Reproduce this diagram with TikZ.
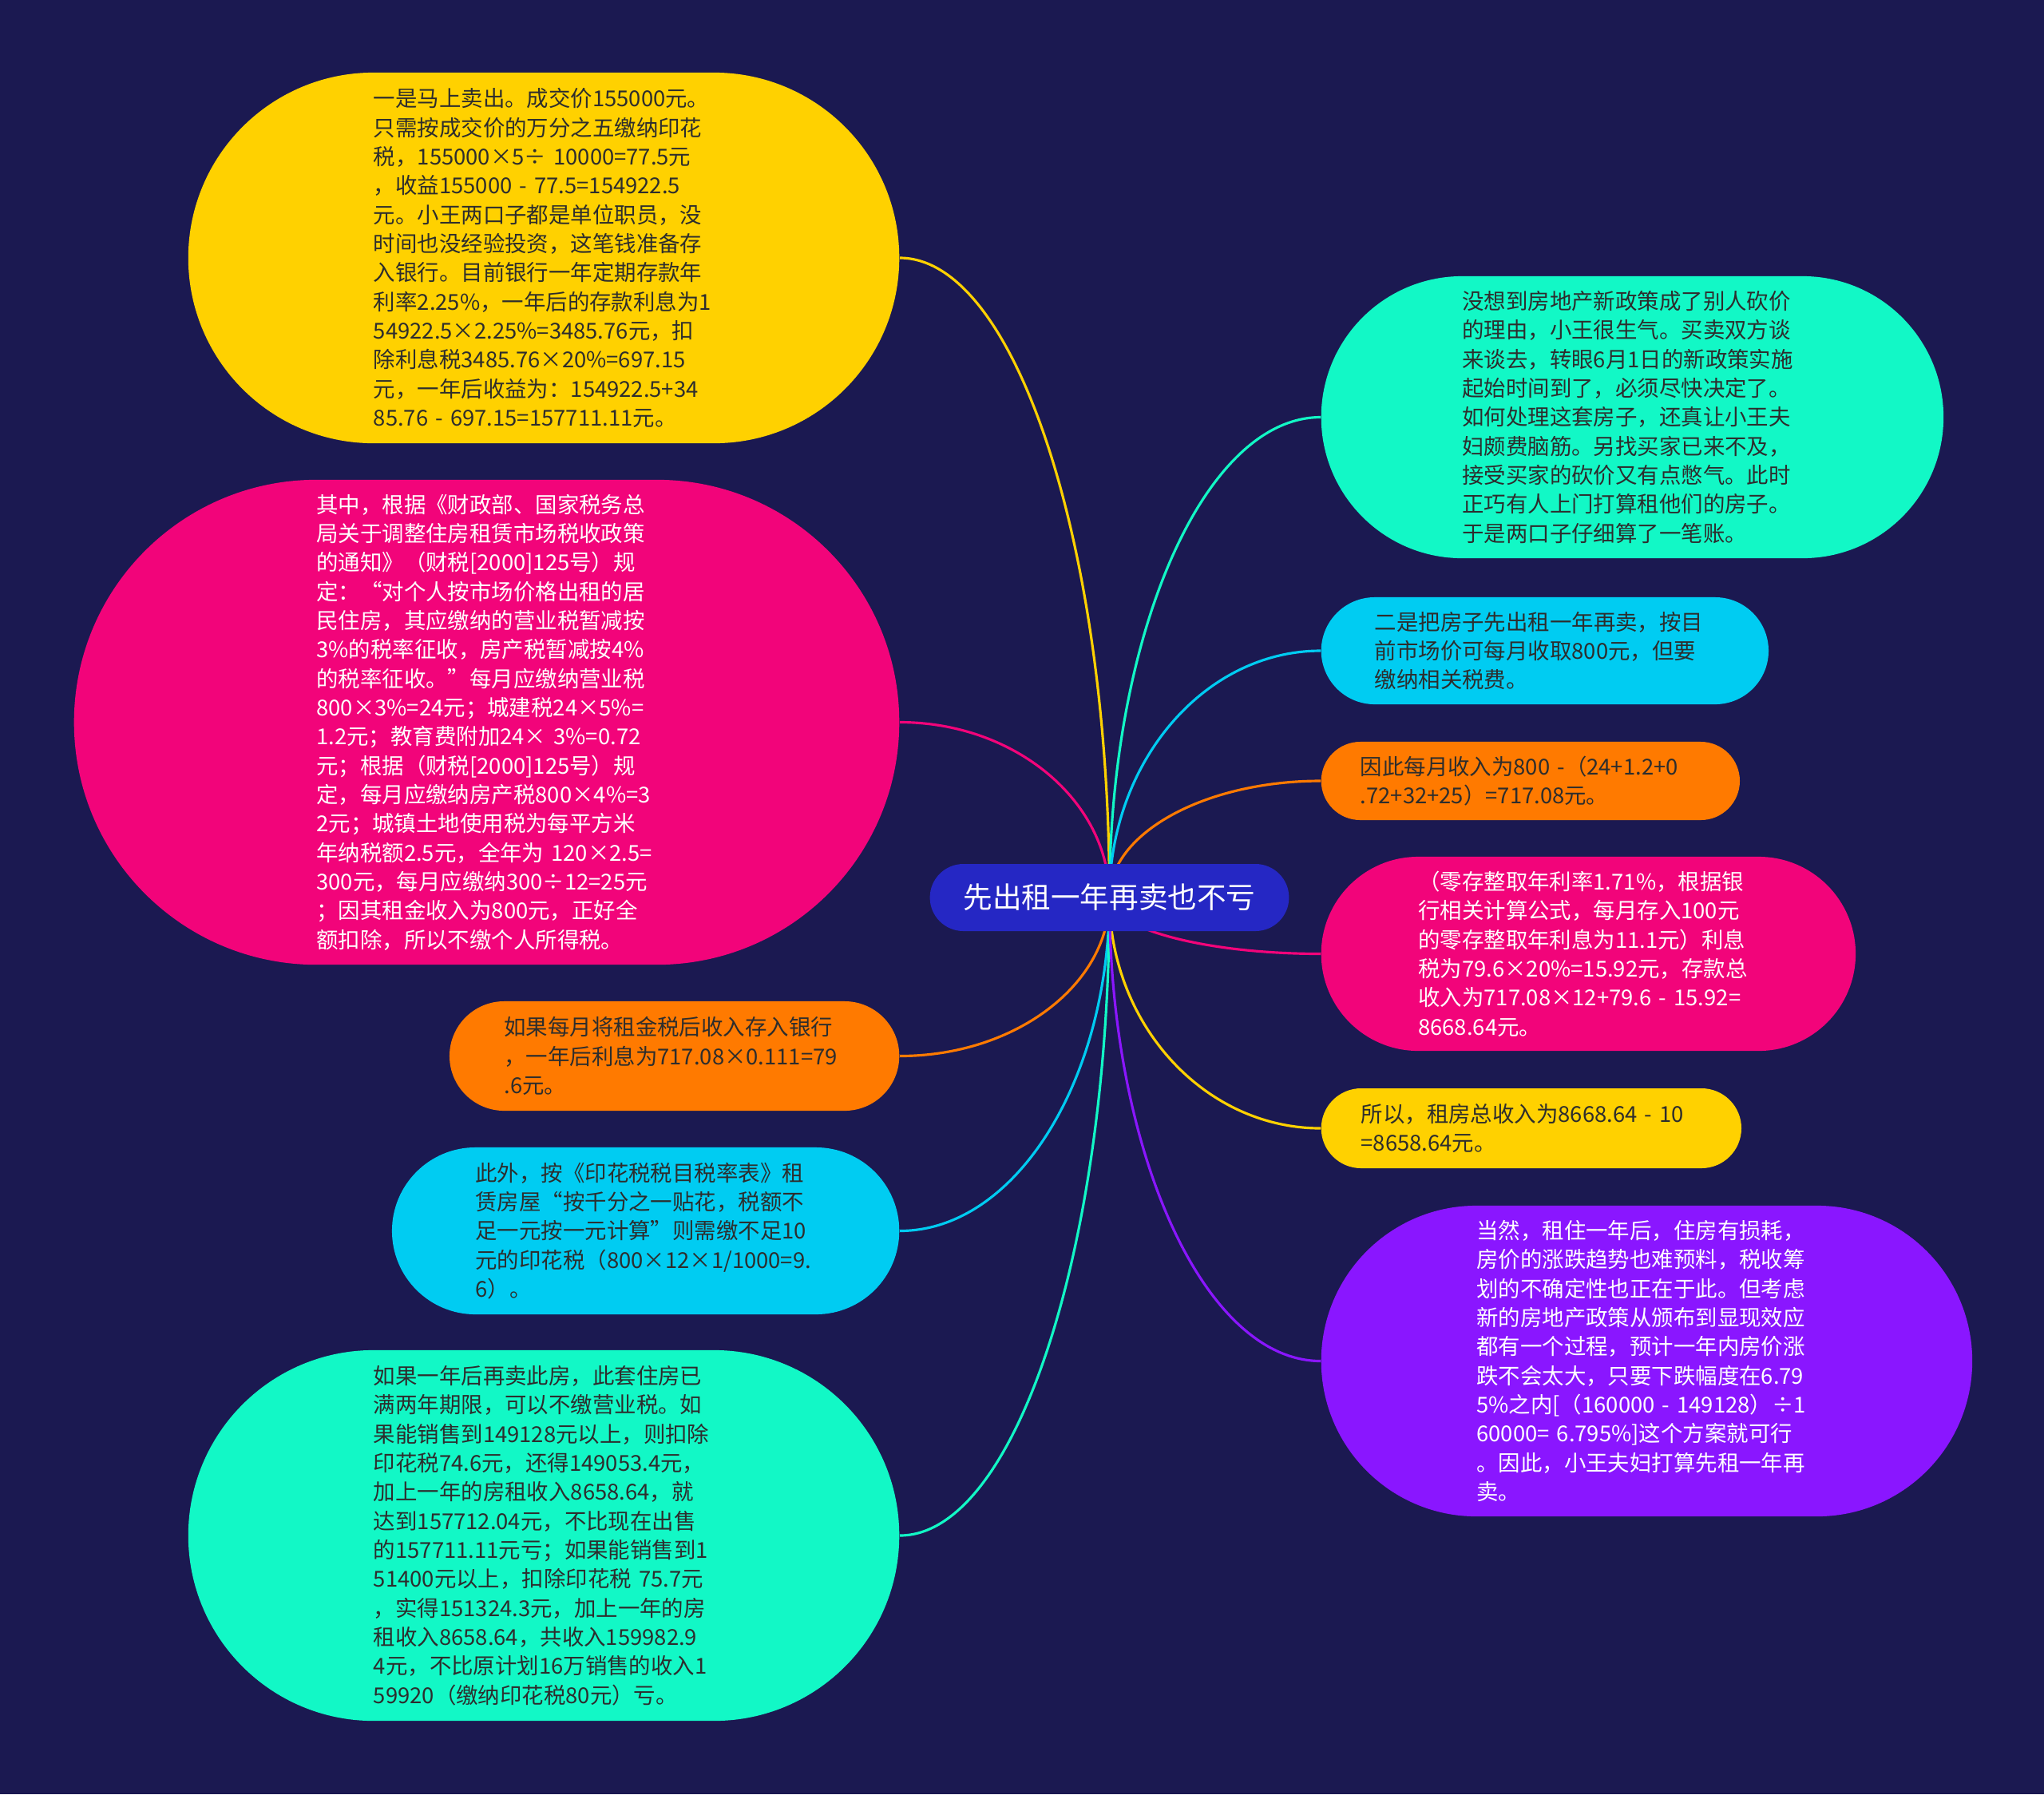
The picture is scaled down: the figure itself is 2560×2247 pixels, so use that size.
\documentclass[tikz,border=0pt]{standalone}
\usepackage{fontspec}
\setmainfont{Noto Sans CJK SC}
\usepackage{xcolor}
\usetikzlibrary{positioning, calc, backgrounds}

\definecolor{bgnavy}{RGB}{27,25,81}
\definecolor{rootblue}{RGB}{37,39,196}
\definecolor{cYel}{RGB}{255,209,0}
\definecolor{cPink}{RGB}{242,4,122}
\definecolor{cOra}{RGB}{255,122,0}
\definecolor{cCyan}{RGB}{0,204,242}
\definecolor{cTeal}{RGB}{18,248,198}
\definecolor{cViol}{RGB}{138,22,255}
\definecolor{txtdark}{RGB}{45,45,45}

\begin{document}
\begin{tikzpicture}[
    x=0.01cm, y=-0.01cm,
    bub/.style={rectangle, inner xsep=0pt, inner ysep=2pt, text width=4.26cm, align=left, text=txtdark, font=\fontsize{7.8pt}{10.33pt}\selectfont},
    pill/.style={minimum height=#1, minimum width=4.26cm+#1, rounded corners=0.5*#1},
    bubY/.style={bub, fill=cYel},
    bubP/.style={bub, fill=cPink, text=white},
    bubO/.style={bub, fill=cOra},
    bubC/.style={bub, fill=cCyan},
    bubT/.style={bub, fill=cTeal},
    bubV/.style={bub, fill=cViol, text=white},
    root/.style={rectangle, fill=rootblue, text=white, inner xsep=0.42cm, minimum height=0.84cm, rounded corners=0.42cm, font=\fontsize{10.4pt}{12pt}\selectfont},
    lnk/.style={line width=0.9pt, to path={.. controls ($(\tikztostart)!0.55!(\tikztostart|-\tikztotarget)$) and ($(\tikztotarget)!0.55!(\tikztostart|-\tikztotarget)$) .. (\tikztotarget)}}
]
\useasboundingbox (0,0) rectangle (2560,2247);

% centre
\node[root] (root) at (1389.5,1124) {先出租一年再卖也不亏};

% left side
\node[bubY, pill=4.64cm, anchor=east] (sell) at (1127,323) {一是马上卖出。成交价155000元。\\只需按成交价的万分之五缴纳印花\\税，155000×5÷ 10000=77.5元\\，收益155000 - 77.5=154922.5\\元。小王两口子都是单位职员，没\\时间也没经验投资，这笔钱准备存\\入银行。目前银行一年定期存款年\\利率2.25\%，一年后的存款利息为1\\54922.5×2.25\%=3485.76元，扣\\除利息税3485.76×20\%=697.15\\元，一年后收益为：154922.5+34\\85.76 - 697.15=157711.11元。};
\node[bubP, pill=6.07cm, anchor=east] (taxrule) at (1127,904.5) {其中，根据《财政部、国家税务总\\局关于调整住房租赁市场税收政策\\的通知》（财税[2000]125号）规\\定：“对个人按市场价格出租的居\\民住房，其应缴纳的营业税暂减按\\3\%的税率征收，房产税暂减按4\%\\的税率征收。”每月应缴纳营业税\\800×3\%=24元；城建税24×5\%=\\1.2元；教育费附加24× 3\%=0.72\\元；根据（财税[2000]125号）规\\定，每月应缴纳房产税800×4\%=3\\2元；城镇土地使用税为每平方米\\年纳税额2.5元，全年为 120×2.5=\\300元，每月应缴纳300÷12=25元\\；因其租金收入为800元，正好全\\额扣除，所以不缴个人所得税。};
\node[bubO, pill=1.37cm, anchor=east] (bank) at (1127,1322.5) {如果每月将租金税后收入存入银行\\，一年后利息为717.08×0.111=79\\.6元。};
\node[bubC, pill=2.09cm, anchor=east] (stamp) at (1127,1541.5) {此外，按《印花税税目税率表》租\\赁房屋“按千分之一贴花，税额不\\足一元按一元计算”则需缴不足10\\元的印花税（800×12×1/1000=9.\\6）。};
\node[bubT, pill=4.64cm, anchor=east] (later) at (1127,1923) {如果一年后再卖此房，此套住房已\\满两年期限，可以不缴营业税。如\\果能销售到149128元以上，则扣除\\印花税74.6元，还得149053.4元，\\加上一年的房租收入8658.64，就\\达到157712.04元，不比现在出售\\的157711.11元亏；如果能销售到1\\51400元以上，扣除印花税 75.7元\\，实得151324.3元，加上一年的房\\租收入8658.64，共收入159982.9\\4元，不比原计划16万销售的收入1\\59920（缴纳印花税80元）亏。};

% right side
\node[bubT, pill=3.53cm, anchor=west] (story) at (1654,522.5) {没想到房地产新政策成了别人砍价\\的理由，小王很生气。买卖双方谈\\来谈去，转眼6月1日的新政策实施\\起始时间到了，必须尽快决定了。\\如何处理这套房子，还真让小王夫\\妇颇费脑筋。另找买家已来不及，\\接受买家的砍价又有点憋气。此时\\正巧有人上门打算租他们的房子。\\于是两口子仔细算了一笔账。};
\node[bubC, pill=1.34cm, anchor=west] (rent) at (1654,815) {二是把房子先出租一年再卖，按目\\前市场价可每月收取800元，但要\\缴纳相关税费。};
\node[bubO, pill=0.98cm, anchor=west] (monthly) at (1654,978) {因此每月收入为800 -（24+1.2+0\\.72+32+25）=717.08元。};
\node[bubP, pill=2.43cm, anchor=west] (deposit) at (1654,1194.5) {（零存整取年利率1.71\%，根据银\\行相关计算公式，每月存入100元\\的零存整取年利息为11.1元）利息\\税为79.6×20\%=15.92元，存款总\\收入为717.08×12+79.6 - 15.92=\\8668.64元。};
\node[bubY, pill=1.00cm, anchor=west] (total) at (1654,1413) {所以，租房总收入为8668.64 - 10\\=8658.64元。};
\node[bubV, pill=3.89cm, anchor=west] (risk) at (1654,1704.5) {当然，租住一年后，住房有损耗，\\房价的涨跌趋势也难预料，税收筹\\划的不确定性也正在于此。但考虑\\新的房地产政策从颁布到显现效应\\都有一个过程，预计一年内房价涨\\跌不会太大，只要下跌幅度在6.79\\5\%之内[（160000 - 149128）÷1\\60000= 6.795\%]这个方案就可行\\。因此，小王夫妇打算先租一年再\\卖。};

% branches
\begin{scope}[on background layer]
\fill[bgnavy] (0,0) rectangle (2560,2247);
\draw[lnk, cYel] (root.center) to (sell.east);
\draw[lnk, cPink] (root.center) to (taxrule.east);
\draw[lnk, cOra] (root.center) to (bank.east);
\draw[lnk, cCyan] (root.center) to (stamp.east);
\draw[lnk, cTeal] (root.center) to (later.east);
\draw[lnk, cTeal] (root.center) to (story.west);
\draw[lnk, cCyan] (root.center) to (rent.west);
\draw[lnk, cOra] (root.center) to (monthly.west);
\draw[lnk, cPink] (root.center) to (deposit.west);
\draw[lnk, cYel] (root.center) to (total.west);
\draw[lnk, cViol] (root.center) to (risk.west);
\end{scope}

\end{tikzpicture}
\end{document}
